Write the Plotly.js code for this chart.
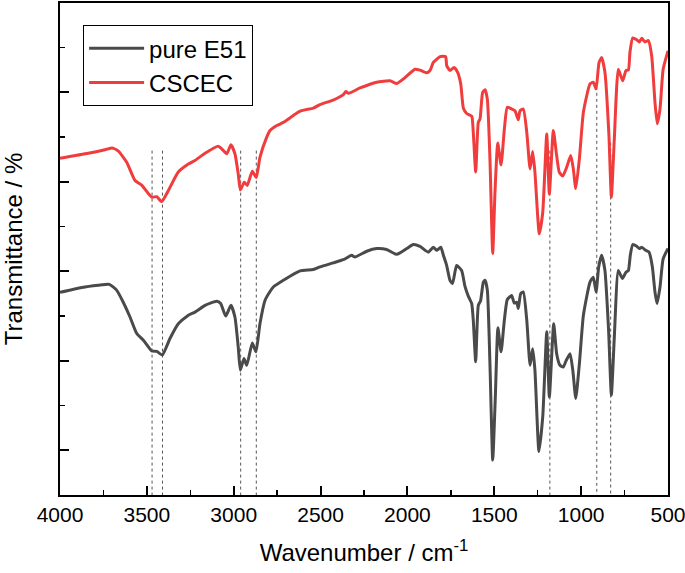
<!DOCTYPE html>
<html>
<head>
<meta charset="utf-8">
<script src="https://cdn.plot.ly/plotly-3.0.1.min.js"></script>
<style>html,body{margin:0;padding:0;background:#fff;}#chart{width:685px;height:573px;}</style>
</head>
<body>
<div id="chart"></div>
<script>
// Wavenumbers (cm-1) and transmittance (arbitrary offset units)
const seriesNames = ["pure E51", "CSCEC"];

const wnE51 = [4000,3875,3780,3716,3674,3636,3597,3558,3520,3472,3443,3411,3367,3319,3261,3223,3165,3098,3075,3046,3016,2993,2974,2962,2941,2925,2893,2872,2849,2820,2791,2772,2714,2618,2542,2503,2427,2369,2321,2302,2234,2177,2120,2062,2004,1966,1928,1880,1851,1832,1808,1793,1774,1755,1740,1717,1688,1669,1650,1630,1621,1607,1592,1579,1563,1553,1540,1525,1509,1494,1479,1461,1442,1425,1400,1385,1371,1362,1348,1333,1313,1294,1279,1266,1243,1221,1198,1183,1158,1141,1122,1103,1087,1064,1048,1031,1010,987,949,930,914,899,882,863,842,826,809,786,763,742,728,717,703,680,665,651,628,609,590,575,563,546,528,500];
const tE51 = [45.3,46.4,46.9,47.1,45.8,43.1,39.8,36.1,34.6,32.2,32.1,31.3,35.0,38.3,40.2,40.9,42.4,43.3,42.8,40.0,42.4,39.8,33.1,27.9,30.5,29.0,34.0,32.0,38.3,43.5,45.5,46.5,48.0,50.1,50.4,51.0,51.9,52.6,53.6,53.2,54.5,55.1,54.9,53.8,55.1,56.0,55.6,54.3,55.4,54.7,55.4,53.6,51.3,48.0,47.3,51.3,50.2,46.7,44.5,42.8,39.1,29.8,42.4,43.4,47.6,48.0,45.8,29.4,7.8,21.9,37.4,32.0,39.1,43.7,44.6,42.9,43.1,41.7,45.0,45.4,39.1,29.0,32.7,27.9,9.7,17.5,36.5,21.9,38.3,31.6,29.0,28.6,30.0,31.6,27.9,21.6,29.4,40.2,47.6,48.7,45.4,51.0,53.6,50.2,36.8,22.3,35.3,50.2,48.4,49.8,50.2,53.6,56.0,55.6,55.1,55.4,54.7,54.3,51.0,45.4,42.8,46.5,52.8,55.1];

const wnCSCEC = [4000,3837,3741,3699,3664,3616,3568,3530,3472,3443,3415,3376,3319,3261,3223,3165,3089,3069,3040,3016,2993,2974,2962,2939,2922,2893,2870,2849,2810,2791,2752,2714,2618,2542,2503,2427,2369,2354,2340,2273,2177,2100,2062,2024,1956,1928,1889,1870,1851,1812,1780,1774,1755,1732,1711,1693,1678,1659,1630,1621,1607,1592,1582,1567,1553,1540,1525,1509,1496,1480,1461,1442,1425,1400,1381,1362,1352,1333,1313,1294,1279,1266,1241,1221,1198,1183,1160,1141,1126,1106,1083,1060,1045,1031,1010,987,949,930,914,897,882,863,840,826,809,786,761,742,728,719,703,680,665,651,632,613,594,575,562,546,528,500];
const tCSCEC = [75.3,76.4,77.2,77.6,76.9,74.4,70.3,69.3,66.6,66.7,65.6,68.1,72.2,74.0,74.8,76.4,78.0,77.4,76.3,78.3,76.3,71.8,68.2,69.9,69.2,72.4,71.0,75.5,80.0,81.5,82.6,83.3,85.8,86.5,87.3,88.3,89.5,90.2,89.8,91.0,92.3,92.6,92.0,93.0,95.2,95.0,94.4,94.9,96.7,98.0,98.0,96.0,94.9,95.6,94.5,91.9,86.5,85.3,84.7,81.1,72.2,83.3,84.1,90.0,90.6,88.5,75.2,54.0,67.7,78.7,73.8,81.8,86.7,86.3,85.9,83.9,85.9,86.3,81.1,72.9,76.8,72.2,58.4,63.2,80.7,67.3,81.5,75.9,72.2,71.3,73.3,75.9,72.9,68.5,75.2,85.6,91.9,92.3,90.8,96.7,97.8,94.5,80.4,66.6,79.6,95.2,92.6,94.9,95.0,99.0,102.2,101.8,101.3,102.1,101.3,101.6,98.2,87.8,83.0,86.3,95.2,99.3];

// Peak positions marked by dotted guide lines and the level where each guide starts
const peakWn = [3470, 3410, 2960, 2870, 1180, 910, 830];
const peakTop = [77.0, 77.0, 77.0, 77.0, 77.0, 92.6, 78.8];

const xTickVals = [4000, 3500, 3000, 2500, 2000, 1500, 1000, 500];

const traces = [
  {x: wnE51, y: tE51, name: seriesNames[0], type: "scatter", mode: "lines",
   line: {color: "#4a4a4a", width: 3, shape: "spline", smoothing: 0.5}},
  {x: wnCSCEC, y: tCSCEC, name: seriesNames[1], type: "scatter", mode: "lines",
   line: {color: "#f03c3c", width: 3, shape: "spline", smoothing: 0.5}}
];

const shapes = peakWn.map((w, i) => ({
  type: "line", xref: "x", yref: "y", x0: w, x1: w, y0: peakTop[i], y1: 0,
  line: {color: "#555555", width: 1, dash: "dot"}, layer: "below"
}));

const layout = {
  width: 685, height: 573,
  margin: {l: 60, r: 17, t: 3, b: 78},
  paper_bgcolor: "#ffffff", plot_bgcolor: "#ffffff",
  font: {family: "Arial, Liberation Sans, sans-serif", color: "#000"},
  showlegend: true,
  legend: {x: 0.038, y: 0.955, xanchor: "left", yanchor: "top",
           bordercolor: "#000", borderwidth: 1, bgcolor: "rgba(255,255,255,0)",
           itemwidth: 55,
           font: {size: 24, family: "Arial, Liberation Sans, sans-serif"}, tracegroupgap: 0},
  xaxis: {
    range: [4000, 500], tickvals: xTickVals, ticks: "inside", ticklen: 9, tickwidth: 2,
    tickcolor: "#000", showline: true, linecolor: "#000", linewidth: 2, mirror: true,
    showgrid: false, zeroline: false, ticklabeloverflow: "allow",
    tickfont: {size: 21, family: "Arial, Liberation Sans, sans-serif"},
    minor: {dtick: 250, tick0: 0, ticks: "inside", ticklen: 5, tickwidth: 1.5, tickcolor: "#000", showgrid: false},
    title: {text: "Wavenumber / cm<sup>-1</sup>", font: {size: 24}, standoff: 19},
    automargin: "bottom"
  },
  yaxis: {
    range: [0, 110], tick0: 10, dtick: 20, ticks: "inside", ticklen: 9, tickwidth: 2,
    tickcolor: "#000", showticklabels: false, showline: true, linecolor: "#000", linewidth: 2,
    mirror: true, showgrid: false, zeroline: false,
    minor: {dtick: 10, tick0: 0, ticks: "inside", ticklen: 5, tickwidth: 1.5, tickcolor: "#000", showgrid: false},
    title: {text: "Transmittance / %", font: {size: 24}, standoff: 30},
    automargin: "left"
  },
  shapes: shapes
};

Plotly.newPlot("chart", traces, layout, {displayModeBar: false, staticPlot: true});
</script>
</body>
</html>
